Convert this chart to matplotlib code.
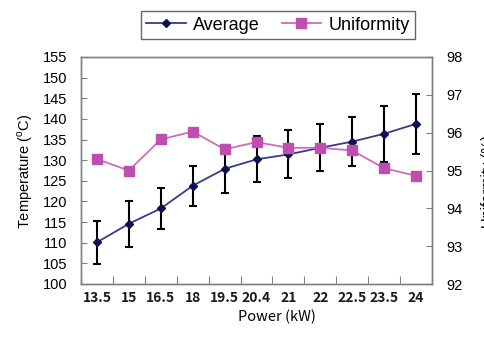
import numpy as np
import matplotlib
matplotlib.use('Agg')
import matplotlib.pyplot as plt

plt.rcParams['font.family'] = ['Liberation Sans', 'DejaVu Sans']
plt.rcParams['mathtext.fontset'] = 'custom'
plt.rcParams['mathtext.rm'] = 'Liberation Sans'

power = ['13.5', '15', '16.5', '18', '19.5', '20.4', '21', '22', '22.5', '23.5', '24']
avg_temp = [110.1, 114.6, 118.3, 123.8, 127.9, 130.2, 131.4, 133.0, 134.5, 136.4, 138.8]
temp_err = [5.2, 5.6, 4.9, 4.9, 5.8, 5.6, 5.8, 5.7, 5.9, 6.8, 7.2]
uniformity = [95.3, 95.0, 95.82, 96.03, 95.56, 95.75, 95.6, 95.6, 95.53, 95.06, 94.86]

fig = plt.figure(figsize=(4.84, 3.45), dpi=100)
ax = fig.add_axes([81/484, 1-284/345, 351/484, 227/345])
ax2 = ax.twinx()

x = np.arange(len(power))

ax.errorbar(x, avg_temp, yerr=temp_err, fmt='none', ecolor='black',
            elinewidth=1.5, capsize=3, capthick=1.5, zorder=2)
l1, = ax.plot(x, avg_temp, color='#3a3a8a', lw=1.3, marker='D', markersize=4.5,
              markerfacecolor='#0b1450', markeredgecolor='#0b1450', label='Average', zorder=3)
l2, = ax2.plot(x, uniformity, color='#cc6cc0', lw=1.3, marker='s', markersize=6.5,
               markerfacecolor='#bf4fae', markeredgecolor='#bf4fae', label='Uniformity')

ax.set_xlim(-0.5, len(power) - 0.5)
ax.set_ylim(100, 155)
ax.set_yticks(np.arange(100, 156, 5))
ax2.set_ylim(92, 98)
ax2.set_yticks(np.arange(92, 99, 1))

ax.set_xticks(np.arange(-0.5, len(power), 1))
ax.set_xticklabels([])
ax.set_xticks(x, minor=True)
ax.set_xticklabels(power, minor=True, fontsize=10, fontweight='bold',
                   family=['Noto Sans CJK TC', 'DejaVu Sans'])
ax.tick_params(axis='x', which='major', direction='in', length=6, color='#808080')
ax.tick_params(axis='x', which='minor', length=0, pad=5, colors='#1a1a1a')
ax.tick_params(axis='y', direction='in', length=4.5, color='#808080', labelsize=10.5, pad=10)
ax2.tick_params(axis='y', direction='in', length=4.5, color='#808080', labelsize=10.5, pad=10)

for a in (ax, ax2):
    for s in a.spines.values():
        s.set_color('#808080')
        s.set_linewidth(1.0)

fig.text(25/484, 1-171/345, r'Temperature ($^{\rm o}$C)', rotation=90, ha='center', va='center', fontsize=10.5)
fig.text(481/484, 1-181/345, 'Uniformity (%)', rotation=90, ha='left', va='center', fontsize=10.5)
fig.text(277/484, 1-317/345, 'Power (kW)', ha='center', va='center', fontsize=10.5,
         family=['Noto Sans CJK TC', 'DejaVu Sans'])

leg = fig.legend([l1, l2], ['Average', 'Uniformity'], loc='center',
                 bbox_to_anchor=(278/484, 1-25/345), ncol=2, fontsize=13,
                 frameon=True, fancybox=False, edgecolor='#404040',
                 handlelength=2.2, columnspacing=1.2, handletextpad=0.4,
                 borderpad=0.3)
leg.get_frame().set_linewidth(1.0)

fig.savefig('out.png', dpi=100)
